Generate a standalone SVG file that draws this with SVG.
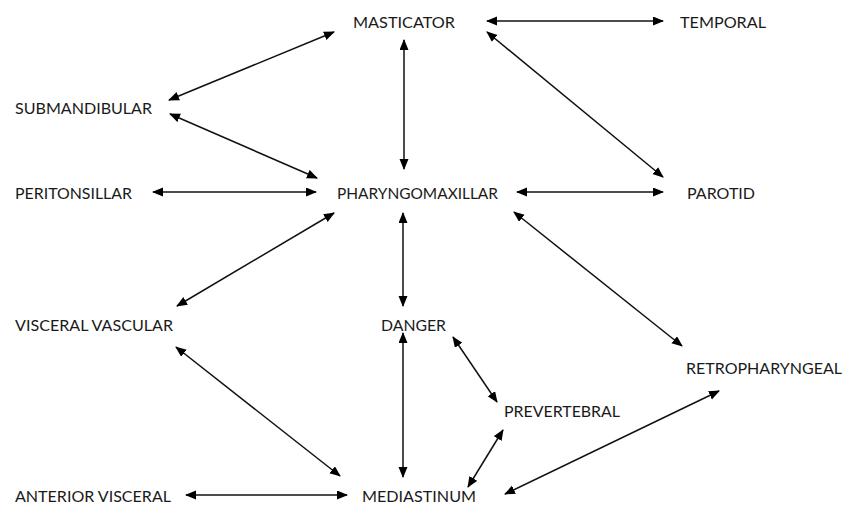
<svg xmlns="http://www.w3.org/2000/svg" width="853" height="506" viewBox="0 0 853 506">
<style>
text{font-family:Lato,"Open Sans","Liberation Sans",sans-serif;font-size:16px;fill:#1a1a1a;dominant-baseline:central}
.c line{stroke:#111;stroke-width:1.5;marker-start:url(#ah);marker-end:url(#ah)}
</style>
<defs>
<marker id="ah" markerUnits="userSpaceOnUse" markerWidth="12" markerHeight="10" refX="10" refY="4.5" orient="auto-start-reverse" viewBox="0 0 12 10">
<path d="M0,0 L11,4.5 L0,9 z" fill="#000"/>
</marker>
</defs>
<rect width="853" height="506" fill="#fff"/>
<g id="masticator"><text x="353" y="21" textLength="102" lengthAdjust="spacingAndGlyphs">MASTICATOR</text></g>
<g id="temporal"><text x="680" y="21" textLength="86" lengthAdjust="spacingAndGlyphs">TEMPORAL</text></g>
<g id="submandibular"><text x="15" y="107" textLength="137" lengthAdjust="spacingAndGlyphs">SUBMANDIBULAR</text></g>
<g id="peritonsillar"><text x="15" y="192" textLength="117" lengthAdjust="spacingAndGlyphs">PERITONSILLAR</text></g>
<g id="pharyngomaxillar"><text x="337" y="192" textLength="161" lengthAdjust="spacingAndGlyphs">PHARYNGOMAXILLAR</text></g>
<g id="parotid"><text x="687" y="192" textLength="68" lengthAdjust="spacingAndGlyphs">PAROTID</text></g>
<g id="visceral-vascular"><text x="15" y="324" textLength="158" lengthAdjust="spacingAndGlyphs">VISCERAL VASCULAR</text></g>
<g id="danger"><text x="381" y="324" textLength="65" lengthAdjust="spacingAndGlyphs">DANGER</text></g>
<g id="retropharyngeal"><text x="686" y="367" textLength="156" lengthAdjust="spacingAndGlyphs">RETROPHARYNGEAL</text></g>
<g id="prevertebral"><text x="504" y="410" textLength="116" lengthAdjust="spacingAndGlyphs">PREVERTEBRAL</text></g>
<g id="anterior-visceral"><text x="15" y="495" textLength="156" lengthAdjust="spacingAndGlyphs">ANTERIOR VISCERAL</text></g>
<g id="mediastinum"><text x="362" y="495" textLength="114" lengthAdjust="spacingAndGlyphs">MEDIASTINUM</text></g>
<g id="connectors" class="c">
<line x1="487" y1="21" x2="663" y2="21"/>
<line x1="334" y1="32" x2="169" y2="100"/>
<line x1="404" y1="40" x2="404" y2="169"/>
<line x1="487" y1="32" x2="663" y2="177"/>
<line x1="170" y1="114" x2="317" y2="178"/>
<line x1="153" y1="192" x2="316" y2="192"/>
<line x1="517" y1="192" x2="663" y2="192"/>
<line x1="334" y1="213" x2="177" y2="306"/>
<line x1="403" y1="213" x2="403" y2="306"/>
<line x1="514" y1="212" x2="682" y2="346"/>
<line x1="176" y1="347" x2="340" y2="476"/>
<line x1="403" y1="333" x2="403" y2="477"/>
<line x1="453" y1="337" x2="497" y2="402"/>
<line x1="503" y1="430" x2="468" y2="487"/>
<line x1="719" y1="391" x2="505" y2="494"/>
<line x1="186" y1="495" x2="347" y2="495"/>
</g>
</svg>
